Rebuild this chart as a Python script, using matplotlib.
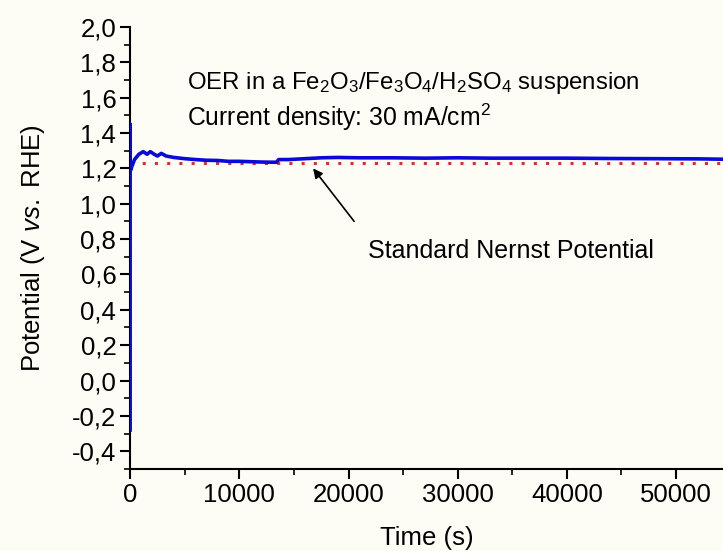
import matplotlib
matplotlib.use("Agg")
import matplotlib.pyplot as plt
from matplotlib.ticker import MultipleLocator, FixedLocator, FixedFormatter

plt.rcParams['font.family'] = ['Liberation Sans', 'DejaVu Sans']
plt.rcParams['mathtext.fontset'] = 'custom'
plt.rcParams['mathtext.rm'] = 'Liberation Sans'
plt.rcParams['mathtext.it'] = 'Liberation Sans:italic'
plt.rcParams['mathtext.bf'] = 'Liberation Sans:bold'

# ---- data ----
time_s = [0, 0, 0, 50, 150, 400, 800, 1200, 1550, 1850, 2200, 2500, 2850, 3300,
          4000, 5000, 6000, 7000, 8000, 9000, 10000, 11000, 12000, 13000, 13400,
          13600, 14500, 16000, 17500, 19000, 21000, 24000, 27000, 30000, 33000,
          36000, 40000, 44000, 48000, 52000, 54300]
potential = [-0.28, 1.45, 1.20, 1.19, 1.21, 1.25, 1.28, 1.295, 1.28, 1.295, 1.28,
             1.27, 1.285, 1.27, 1.262, 1.255, 1.25, 1.246, 1.245, 1.24, 1.24,
             1.238, 1.236, 1.235, 1.235, 1.25, 1.25, 1.255, 1.26, 1.262, 1.26,
             1.26, 1.258, 1.26, 1.258, 1.258, 1.258, 1.256, 1.255, 1.254, 1.252]
nernst_potential = 1.23

x_ticks = [0, 10000, 20000, 30000, 40000, 50000]
x_tick_labels = ["0", "10000", "20000", "30000", "40000", "50000"]
y_ticks = [-0.4, -0.2, 0.0, 0.2, 0.4, 0.6, 0.8, 1.0, 1.2, 1.4, 1.6, 1.8, 2.0]
y_tick_labels = ["-0,4", "-0,2", "0,0", "0,2", "0,4", "0,6", "0,8", "1,0",
                 "1,2", "1,4", "1,6", "1,8", "2,0"]

bg = '#fdfdf6'
fig = plt.figure(figsize=(7.23, 5.51), dpi=100, facecolor=bg)
ax = fig.add_axes([0.18, 0.149, 0.82, 0.802], facecolor=bg)

ax.plot(time_s, potential, color='#0a0ad8', lw=2.6, solid_joinstyle='round', zorder=3)
ax.axhline(nernst_potential, color='#d8302e', lw=2.2, linestyle=(0, (1, 3)), zorder=2)

ax.set_xlim(0, 54300)
ax.set_ylim(-0.5, 2.0)

ax.xaxis.set_major_locator(FixedLocator(x_ticks))
ax.xaxis.set_major_formatter(FixedFormatter(x_tick_labels))
ax.xaxis.set_minor_locator(MultipleLocator(5000))
ax.yaxis.set_major_locator(FixedLocator(y_ticks))
ax.yaxis.set_major_formatter(FixedFormatter(y_tick_labels))
ax.yaxis.set_minor_locator(MultipleLocator(0.1))

for s in ['top', 'right']:
    ax.spines[s].set_visible(False)
for s in ['left', 'bottom']:
    ax.spines[s].set_linewidth(1.5)

ax.tick_params(which='major', direction='out', length=7, width=1.5, labelsize=18.5, pad=3)
ax.tick_params(which='minor', direction='out', length=4, width=1.2)

ax.set_xlabel("Time (s)", fontsize=18.5, labelpad=14)
ax.set_ylabel(r"Potential (V $\mathit{vs.}$ RHE)", fontsize=18.5, labelpad=18)

ax.text(5200, 1.684, r"OER in a Fe$_{\mathrm{2}}$O$_{\mathrm{3}}$/Fe$_{\mathrm{3}}$O$_{\mathrm{4}}$/H$_{\mathrm{2}}$SO$_{\mathrm{4}}$ suspension",
        fontsize=17.3, va='center', ha='left')
ax.text(5200, 1.49, r"Current density: 30 mA/cm$^{\mathrm{2}}$",
        fontsize=17.8, va='center', ha='left')

ax.annotate("Standard Nernst Potential", xy=(16760, 1.20), xytext=(21800, 0.73),
            fontsize=18, va='center', ha='left',
            arrowprops=dict(arrowstyle='-|>', color='black', lw=1.2,
                            mutation_scale=14, shrinkA=14, shrinkB=0,
                            relpos=(0.0, 1.0)))

fig.savefig("out.png", dpi=100, facecolor=bg)
